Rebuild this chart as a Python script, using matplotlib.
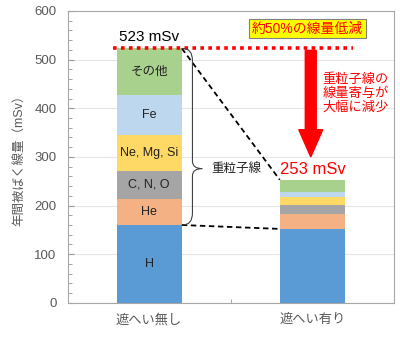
import matplotlib.pyplot as plt
from matplotlib.path import Path
from matplotlib.patches import PathPatch, FancyArrow
import numpy as np

plt.rcParams['font.family'] = ['Liberation Sans', 'Noto Sans CJK JP', 'DejaVu Sans']

# data
categories = ['遮へい無し', '遮へい有り']
components = ['H', 'He', 'C, N, O', 'Ne, Mg, Si', 'Fe', 'その他']
no_shield = [160, 53, 59, 74, 82, 95]
with_shield = [152, 30, 19, 16, 10, 26]
colors = ['#5b9bd5', '#f4b183', '#a5a5a5', '#ffd966', '#bdd7ee', '#a9d18e']
totals = [sum(no_shield), sum(with_shield)]

fig = plt.figure(figsize=(4.0, 3.38), dpi=100)
ax = fig.add_axes([0.169, 0.104, 0.816, 0.8635])

x = np.arange(len(categories))
bottoms = np.zeros(len(categories))
for i, comp in enumerate(components):
    vals = np.array([no_shield[i], with_shield[i]])
    ax.bar(x, vals, 0.4, bottom=bottoms, color=colors[i], zorder=2)
    # labels only on the unshielded bar
    ax.text(x[0], bottoms[0] + vals[0] / 2, comp, ha='center', va='center',
            fontsize=9, color='#222222', zorder=3)
    bottoms += vals

ax.set_xlim(-0.5, 1.5)
ax.set_ylim(0, 600)
ax.set_yticks(range(0, 601, 100))
ax.set_yticks(range(0, 601, 20), minor=True)
ax.set_xticks(x)
ax.set_xticks([0.5], minor=True)
ax.set_xticklabels(categories)
ax.tick_params(axis='both', which='both', direction='in', colors='#999999',
               labelcolor='#595959', labelsize=9.5)
ax.tick_params(axis='y', which='major', length=4, pad=8)
ax.tick_params(axis='y', which='minor', length=3)
ax.tick_params(axis='x', which='both', length=3, pad=8)
ax.grid(axis='y', color='#e6e6e6', linewidth=0.8, zorder=0)
for sp in ax.spines.values():
    sp.set_color('#a6a6a6')
    sp.set_linewidth(0.8)
ax.set_ylabel('年間被ばく線量（mSv）', color='#595959', fontsize=9, labelpad=6)

# total labels
ax.text(x[0], totals[0] + 10, f'{totals[0]} mSv', ha='center', va='bottom',
        fontsize=11, color='black')
ax.text(x[1], totals[1] + 5, f'{totals[1]} mSv', ha='center', va='bottom',
        fontsize=12, color='red')

# red dotted line at unshielded total
ax.plot([-0.22, 1.25], [totals[0], totals[0]], color='red', linestyle=(0, (1, 1.2)),
        linewidth=2.6, zorder=4)

# dashed connectors
ax.plot([0.2, 0.8], [totals[0], totals[1]], color='black', linestyle=(0, (3, 2)),
        linewidth=1.3, zorder=4)
ax.plot([0.2, 0.8], [no_shield[0], with_shield[0]], color='black',
        linestyle=(0, (3, 2)), linewidth=1.3, zorder=4)

# brace for heavy ions
y_top, y_bot = totals[0], no_shield[0]
y_mid = 276
x0, x1, x2 = 0.205, 0.265, 0.325
verts = [(x0, y_top), (x1, y_top), (x1, y_top - 25),
         (x1, y_mid + 15),
         (x1, y_mid), (x2, y_mid),
         (x1, y_mid), (x1, y_mid - 15),
         (x1, y_bot + 25),
         (x1, y_bot), (x0, y_bot)]
codes = [Path.MOVETO, Path.CURVE3, Path.CURVE3,
         Path.LINETO,
         Path.CURVE3, Path.CURVE3,
         Path.CURVE3, Path.CURVE3,
         Path.LINETO,
         Path.CURVE3, Path.CURVE3]
ax.add_patch(PathPatch(Path(verts, codes), facecolor='none', edgecolor='#404040',
                       linewidth=0.8, zorder=4))
ax.text(0.38, y_mid, '重粒子線', ha='left', va='center', fontsize=9, color='#222222')

# yellow box
ax.text(0.97, 564, '約50%の線量低減', ha='center', va='center', fontsize=10,
        color='red', bbox=dict(boxstyle='square,pad=0.2', facecolor='#ffff00',
                                edgecolor='#7f7f7f', linewidth=0.8), zorder=5)

# big red arrow
ax.add_patch(FancyArrow(0.99, 519, 0, -219, width=0.067, head_width=0.147,
                        head_length=56, length_includes_head=True,
                        color='red', zorder=5))
ax.text(1.265, 430, '重粒子線の\n線量寄与が\n大幅に減少', ha='center', va='center',
        fontsize=9.5, color='red', linespacing=1.15)

fig.savefig('out.png', dpi=100)
